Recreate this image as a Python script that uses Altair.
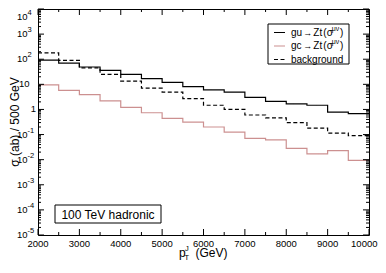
import altair as alt
import pandas as pd

# ---- data ----
bin_lo = [2000, 2500, 3000, 3500, 4000, 4500, 5000, 5500,
          6000, 6500, 7000, 7500, 8000, 8500, 9000, 9500]
bin_hi_end = 10000
gu_zt = [92, 70, 49, 36, 25, 17, 12, 8.1, 6.0, 4.9, 3.0, 2.1, 1.67, 1.47, 0.78, 0.68]
gc_zt = [9.5, 5.7, 3.9, 2.2, 1.2, 0.74, 0.44, 0.31, 0.20, 0.125, 0.07, 0.061,
         0.028, 0.017, 0.023, 0.0093]
background = [179, 90, 45, 25, 13.3, 7.0, 4.9, 2.7, 1.47, 1.0, 0.6, 0.46,
              0.30, 0.18, 0.115, 0.09]
series_names = ["gu", "gc", "background"]
series_colors = ["#000000", "#cc9090", "#000000"]

x_major = [2000, 3000, 4000, 5000, 6000, 7000, 8000, 9000, 10000]
x_minor = [2500, 3500, 4500, 5500, 6500, 7500, 8500, 9500]
y_exp_labels = [3, 2, -1, -2, -3, -4, -5]
y_top_exp = [4]
y_decades = list(range(-5, 5))

legend_first = ["gu", "gc", "background"]
legend_rest = ["Zt", "Zt"]
box_text = "100 TeV hadronic"
y_title = "\u03c3 (ab) / 500 GeV"

# ---- build tables ----
rows = []
for name, vals in zip(series_names, [gu_zt, gc_zt, background]):
    for x, v in zip(bin_lo, vals):
        rows.append({"pt": x, "sigma": v, "series": name})
    rows.append({"pt": bin_hi_end, "sigma": vals[-1], "series": name})
hist_df = pd.DataFrame(rows)

W, H = 331, 226
FONT = "Liberation Sans"
xs = alt.Scale(domain=[2000, 10000], nice=False, zero=False)
ys = alt.Scale(type="log", domain=[1e-5, 1e4], nice=False)
dummy = pd.DataFrame({"a": [0]})
dashes = [[1, 0], [1, 0], [4, 2.5]]

hist = alt.Chart(hist_df).mark_line(interpolate="step-after", strokeWidth=1.2).encode(
    x=alt.X("pt:Q", scale=xs, axis=None),
    y=alt.Y("sigma:Q", scale=ys, axis=None),
    color=alt.Color("series:N", scale=alt.Scale(domain=series_names, range=series_colors), legend=None),
    strokeDash=alt.StrokeDash("series:N", scale=alt.Scale(domain=series_names, range=dashes), legend=None),
)

xmaj = pd.DataFrame({"v": x_major})
xmin = pd.DataFrame({"v": x_minor})
ymaj = pd.DataFrame({"v": [10.0 ** k for k in y_decades]})
ymin = pd.DataFrame({"v": [m * 10.0 ** k for k in y_decades[:-1] for m in range(2, 10)]})

def xticks(df, L):
    b = alt.Chart(df).mark_rule(color="black", strokeWidth=1).encode(
        x=alt.X("v:Q", scale=xs, axis=None), y=alt.value(H), y2=alt.value(H - L))
    t = alt.Chart(df).mark_rule(color="black", strokeWidth=1).encode(
        x=alt.X("v:Q", scale=xs, axis=None), y=alt.value(0), y2=alt.value(L))
    return [b, t]

def yticks(df, L):
    l = alt.Chart(df).mark_rule(color="black", strokeWidth=1).encode(
        y=alt.Y("v:Q", scale=ys, axis=None), x=alt.value(0), x2=alt.value(L))
    r = alt.Chart(df).mark_rule(color="black", strokeWidth=1).encode(
        y=alt.Y("v:Q", scale=ys, axis=None), x=alt.value(W - L), x2=alt.value(W))
    return [l, r]

ticks = xticks(xmaj, 6) + xticks(xmin, 3) + yticks(ymaj, 6) + yticks(ymin, 3)

xlab = alt.Chart(pd.DataFrame({"v": x_major[:-1]})).mark_text(
    fontSize=9.5, font=FONT, baseline="middle", align="center").encode(
    x=alt.X("v:Q", scale=xs, axis=None), y=alt.value(H + 8.5), text=alt.Text("v:Q", format="d"))
xlab_last = alt.Chart(pd.DataFrame({"v": x_major[-1:]})).mark_text(
    fontSize=9.5, font=FONT, baseline="middle", align="right", dx=8.5).encode(
    x=alt.X("v:Q", scale=xs, axis=None), y=alt.value(H + 8.5), text=alt.Text("v:Q", format="d"))

def ylab(exps, shift):
    d = pd.DataFrame({"v": [10.0 ** k for k in exps], "e": [str(k) for k in exps]})
    base_props = dict(fontSize=9.5, font=FONT, baseline="middle", align="right", text="10")
    if shift:
        base_props["dy"] = shift
    b = alt.Chart(d).mark_text(**base_props).encode(
        y=alt.Y("v:Q", scale=ys, axis=None), x=alt.value(-10.5))
    e = alt.Chart(d).mark_text(fontSize=7.5, font=FONT, baseline="middle", align="left",
                               dy=shift - 4).encode(
        y=alt.Y("v:Q", scale=ys, axis=None), x=alt.value(-10.5), text="e:N")
    return [b, e]

ylabels = ylab(y_exp_labels, 0) + ylab(y_top_exp, 7.5)
y10 = alt.Chart(pd.DataFrame({"v": [10.0]})).mark_text(fontSize=9.5, font=FONT, baseline="middle",
    align="right", text="10").encode(y=alt.Y("v:Q", scale=ys, axis=None), x=alt.value(-8.5))
y1 = alt.Chart(pd.DataFrame({"v": [1.0]})).mark_text(fontSize=9.5, font=FONT, baseline="middle",
    align="right", text="1").encode(y=alt.Y("v:Q", scale=ys, axis=None), x=alt.value(-2))

def txt(s, x, y, size, align="left", baseline="middle", angle=0, dy=0):
    props = dict(text=s, fontSize=size, font=FONT, align=align, baseline=baseline, color="black")
    if angle:
        props["angle"] = angle
    if dy:
        props["dy"] = dy
    return alt.Chart(dummy).mark_text(**props).encode(x=alt.value(x), y=alt.value(y))

def box(x1, x2, y1, y2):
    return alt.Chart(dummy).mark_rect(fill="white", stroke="black", strokeWidth=1).encode(
        x=alt.value(x1), x2=alt.value(x2), y=alt.value(y1), y2=alt.value(y2))

ytitle = txt(y_title, -23, H / 2, 12, align="center", angle=270)
tb = H + 22
xtitle = [
    txt("p", 141, tb, 12, baseline="alphabetic"),
    txt("T", 146.5, tb + 2.5, 7.5, baseline="alphabetic"),
    txt("J", 147, tb - 6.5, 7.5, baseline="alphabetic"),
    txt("(GeV)", 157.5, tb, 12, baseline="alphabetic"),
]

leg_y = [23.5, 37, 50.5]
legend = [box(230, 311, 15, 55)]
for i, lab in enumerate(legend_first):
    legend.append(alt.Chart(dummy).mark_rule(color=series_colors[i], strokeWidth=1.2,
                  strokeDash=dashes[i]).encode(
        x=alt.value(236), x2=alt.value(247), y=alt.value(leg_y[i])))
    legend.append(txt(lab, 253, leg_y[i], 10))
    if i < 2:
        legend.append(txt("\u2192", 265.3, leg_y[i], 9))
        legend.append(txt(legend_rest[i], 275.3, leg_y[i], 10))
        legend.append(txt("(\u03c3", 285.3, leg_y[i], 10))
        legend.append(txt("\u03bc\u03bd", 293.7, leg_y[i] - 4, 7))
        legend.append(txt(")", 302, leg_y[i], 10))

tbox = [box(17, 123, 196, 214), txt(box_text, 70, 205.5, 12, align="center")]

chart = alt.layer(
    hist, *ticks, xlab, xlab_last, *ylabels, y10, y1, ytitle, *xtitle, *legend, *tbox
).properties(
    width=W, height=H,
    padding={"left": 30, "top": 1, "right": 9, "bottom": 25},
    autosize=alt.AutoSizeParams(type="none"),
).configure_view(stroke="black", strokeWidth=1)

chart.save("out.html", embed_options={"renderer": "svg", "actions": False})
